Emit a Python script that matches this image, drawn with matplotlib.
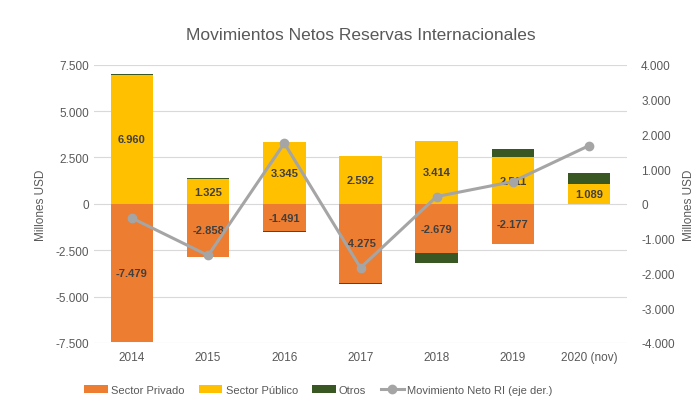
import matplotlib.pyplot as plt
import numpy as np

years = ["2014", "2015", "2016", "2017", "2018", "2019", "2020 (nov)"]
privado = [-7479, -2858, -1491, -4275, -2679, -2177, 0]
publico = [6960, 1325, 3345, 2592, 3414, 2511, 1089]
otros = [60, 70, -50, -60, -510, 420, 580]
neto = [-410, -1485, 1745, -1840, 210, 640, 1675]

left_ticks = [-7500, -5000, -2500, 0, 2500, 5000, 7500]
left_labels = ["-7.500", "-5.000", "-2.500", "0", "2.500", "5.000", "7.500"]
right_ticks = [-4000, -3000, -2000, -1000, 0, 1000, 2000, 3000, 4000]
right_labels = ["-4.000", "-3.000", "-2.000", "-1.000", "0", "1.000", "2.000", "3.000", "4.000"]

c_priv = "#ED7D31"
c_pub = "#FFC000"
c_otros = "#385723"
c_line = "#A5A5A5"
txt = "#595959"

plt.rcParams['font.family'] = ['Liberation Sans', 'DejaVu Sans']

fig = plt.figure(figsize=(7, 4.06), dpi=100)
ax = fig.add_axes([0.134, 0.153, 0.762, 0.685])

x = np.arange(len(years))
w = 0.56

ax.bar(x, privado, w, color=c_priv, label="Sector Privado", zorder=2)
ax.bar(x, publico, w, color=c_pub, label="Sector Público", zorder=2)
# otros goes on the side with the same sign
base = [p if o >= 0 else q for o, p, q in zip(otros, publico, privado)]
ax.bar(x, otros, w, bottom=base, color=c_otros, label="Otros", zorder=2)

for i in range(len(years)):
    ax.text(x[i], publico[i] / 2, f"{publico[i]:,}".replace(",", "."), ha="center", va="center",
            fontsize=8, fontweight="bold", color="#404040", zorder=4)
    if privado[i] != 0:
        ax.text(x[i], privado[i] / 2, f"{privado[i]:,}".replace(",", "."), ha="center", va="center",
                fontsize=8, fontweight="bold", color="#404040", zorder=4)

ax.set_ylim(-7500, 7500)
ax.set_xlim(-0.5, len(years) - 0.5)
ax.set_yticks(left_ticks)
ax.set_yticklabels(left_labels)
ax.set_xticks(x)
ax.set_xticklabels(years)
ax.grid(axis="y", color="#D9D9D9", linewidth=0.8, zorder=0)
ax.set_axisbelow(True)
ax.tick_params(length=0, colors=txt, labelsize=8.5)
ax.tick_params(axis="x", pad=6)
for s in ax.spines.values():
    s.set_visible(False)
ax.set_ylabel("Millones USD", color=txt, fontsize=8.5, labelpad=6)

ax2 = ax.twinx()
ax2.plot(x, neto, color=c_line, linewidth=2.2, marker="o", markersize=6,
         label="Movimiento Neto RI (eje der.)", zorder=3)
ax2.set_ylim(-4000, 4000)
ax2.set_yticks(right_ticks)
ax2.set_yticklabels(right_labels)
ax2.tick_params(length=0, colors=txt, labelsize=8.5, pad=10)
for s in ax2.spines.values():
    s.set_visible(False)
ax2.set_ylabel("Millones USD", color=txt, fontsize=8.5, labelpad=6)

fig.suptitle("Movimientos Netos Reservas Internacionales", x=0.515, y=0.93,
             fontsize=12.5, color=txt)

h1, l1 = ax.get_legend_handles_labels()
h2, l2 = ax2.get_legend_handles_labels()
fig.legend(h1 + h2, l1 + l2, loc="lower center", bbox_to_anchor=(0.455, 0.0), ncol=4,
           frameon=False, fontsize=8, labelcolor=txt, handlelength=2.1, columnspacing=1.3,
           handletextpad=0.3)

fig.savefig("out.png", dpi=100)
